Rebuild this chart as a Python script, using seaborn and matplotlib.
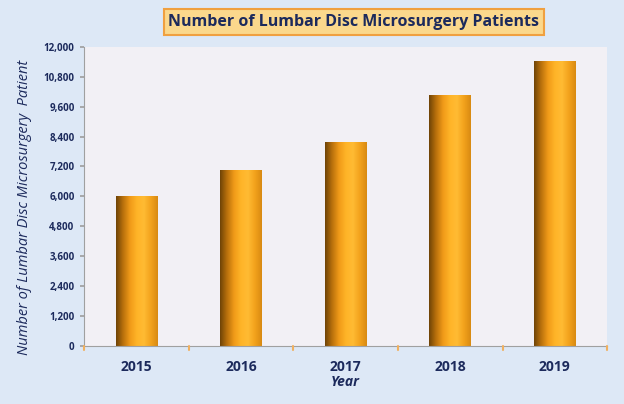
import numpy as np
import pandas as pd
import seaborn as sns
from matplotlib import pyplot as plt
from matplotlib.colors import LinearSegmentedColormap
from matplotlib.ticker import FuncFormatter, MultipleLocator

years = ['2015', '2016', '2017', '2018', '2019']
patients = [6000, 7050, 8200, 10050, 11450]

navy = '#1c2a5c'

sns.set_theme(style='white')
plt.rcParams['font.family'] = ['Open Sans', 'DejaVu Sans']

df = pd.DataFrame({'year': years, 'patients': patients})

fig = plt.figure(figsize=(6.24, 4.04), dpi=100, facecolor='#dde8f6')
ax = fig.add_axes([0.135, 0.144, 0.838, 0.740])
ax.set_facecolor('#f2f0f5')

sns.barplot(df, x='year', y='patients', color='#f5a01a', width=0.4, ax=ax)

# cylinder-ish shading on each bar
grad = LinearSegmentedColormap.from_list(
    'cyl', ['#6e4306', '#b8700c', '#f09a18', '#ffb428', '#ffbb33', '#f3a21c', '#d88a12'])
shade = np.linspace(0, 1, 256).reshape(1, -1)
for bar in ax.patches:
    x0, y0 = bar.get_x(), bar.get_y()
    w, h = bar.get_width(), bar.get_height()
    im = ax.imshow(shade, cmap=grad, aspect='auto', extent=(x0, x0 + w, y0, y0 + h),
                   zorder=bar.get_zorder() + 0.1)
    im.set_clip_path(bar)
    bar.set_edgecolor('none')

ax.set_xlim(-0.5, 4.5)
ax.set_ylim(0, 12000)
ax.yaxis.set_major_locator(MultipleLocator(1200))
ax.yaxis.set_major_formatter(FuncFormatter(lambda v, p: f'{int(v):,}'))

for side in ['top', 'right']:
    ax.spines[side].set_visible(False)
ax.spines['left'].set_color('#a0a0a0')
ax.spines['bottom'].set_color('#a0a0a0')
ax.spines['left'].set_linewidth(0.8)
ax.spines['bottom'].set_linewidth(0.8)

ax.tick_params(axis='y', left=True, length=3, color='#a0a0a0', labelsize=7, labelcolor=navy, pad=4)
ax.tick_params(axis='x', bottom=False, labelsize=10, labelcolor=navy, pad=4)
for lab in ax.get_yticklabels():
    lab.set_fontweight('bold')
for lab in ax.get_xticklabels():
    lab.set_fontweight('bold')

# orange tick marks between categories
for xb in np.arange(-0.5, 5.0, 1.0):
    ax.plot([xb, xb], [0, -150], color='#f0b060', lw=1.5, clip_on=False, zorder=5)

ax.set_xlabel('Year', fontsize=10, color=navy, style='italic', fontweight='bold', labelpad=1)
ax.set_ylabel('Number of Lumbar Disc Microsurgery  Patient', fontsize=10.5, color=navy,
              style='italic')
ax.yaxis.set_label_coords(-0.1, 0.463)

fig.text(0.567, 0.945, 'Number of Lumbar Disc Microsurgery Patients', ha='center', va='center',
         fontsize=11.5, fontweight='bold', color=navy,
         bbox=dict(boxstyle='square,pad=0.3', facecolor='#fbd88c', edgecolor='#f0a040', lw=1.5))

fig.savefig('out.png', dpi=100, facecolor=fig.get_facecolor())
